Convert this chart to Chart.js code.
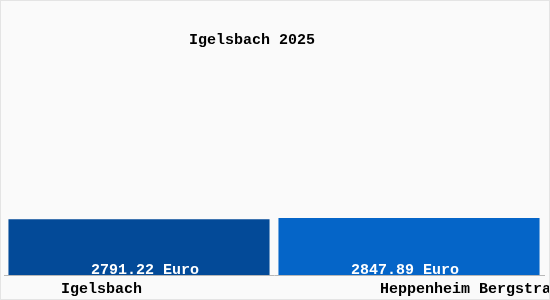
<!DOCTYPE html>
<html>
<head>
<meta charset="utf-8">
<script src="https://cdn.jsdelivr.net/npm/chart.js@4/dist/chart.umd.min.js"></script>
<style>
    html, body { margin: 0; padding: 0; background: #ffffff; }
    #wrap { position: relative; width: 548px; height: 298px; border: 1px solid #e4e4e4; background: #fafafa; }
</style>
</head>
<body>
<div id="wrap"><canvas id="grafico" width="548" height="298"></canvas></div>
<script>
// datos del gráfico
const titulo = 'Igelsbach 2025';
const lugares = ['Igelsbach', 'Heppenheim Bergstraße'];
const valores = [2791.22, 2847.89];
const colores = ['#034a98', '#0565c8'];
const unidad = 'Euro';

// textos: título, etiquetas de valor y nombres debajo
const textosPlugin = {
    id: 'textos',
    afterDatasetsDraw(chart) {
        const ctx = chart.ctx;
        const meta = chart.getDatasetMeta(0);
        const base = chart.scales.y.getPixelForValue(0);
        ctx.save();
        ctx.textAlign = 'center';
        ctx.textBaseline = 'alphabetic';

        // valores dentro de las barras
        ctx.font = 'bold 15px "Liberation Mono"';
        ctx.fillStyle = '#ffffff';
        const despValor = [6, -4];
        meta.data.forEach((bar, i) => {
            ctx.fillText(valores[i].toFixed(2) + ' ' + unidad, bar.x + despValor[i], base - 1);
        });

        // nombres debajo (desplazados como en el original)
        ctx.fillStyle = '#000000';
        ctx.textAlign = 'left';
        const inicio = [61, 380];
        lugares.forEach((l, i) => {
            ctx.fillText(l, inicio[i] - 1, base + 18);
        });

        // título
        ctx.textAlign = 'center';
        ctx.font = 'bold 15px "Liberation Mono"';
        ctx.fillText(titulo, 251, 43);
        ctx.restore();
    }
};

const ctx = document.getElementById('grafico').getContext('2d');
new Chart(ctx, {
    type: 'bar',
    data: {
        labels: lugares,
        datasets: [{
            data: valores,
            backgroundColor: colores,
            borderWidth: 0,
            barPercentage: 1,
            categoryPercentage: 0.967
        }]
    },
    options: {
        responsive: false,
        animation: false,
        layout: { padding: { left: 3, right: 5, top: 74, bottom: 16 } },
        plugins: {
            legend: { display: false },
            tooltip: { enabled: false }
        },
        scales: {
            x: {
                grid: { display: false },
                ticks: { display: false },
                border: { display: true, color: '#b8b8b8', width: 1 }
            },
            y: {
                display: false,
                min: 0,
                max: 10000
            }
        }
    },
    plugins: [textosPlugin]
});
</script>
</body>
</html>
